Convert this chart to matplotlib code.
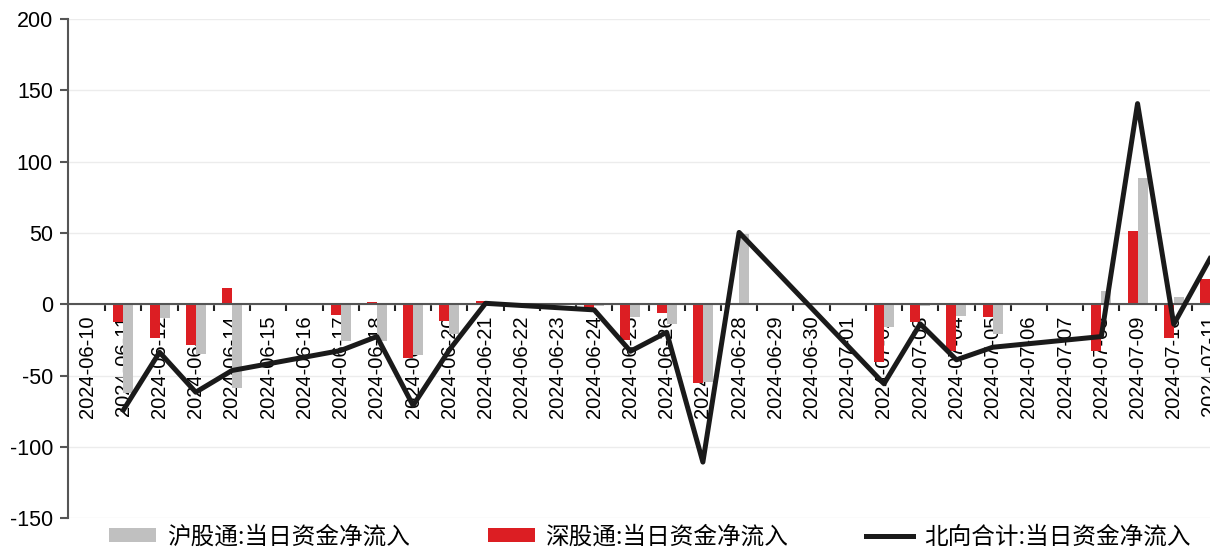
import numpy as np
import matplotlib
matplotlib.use("Agg")
from matplotlib import pyplot as plt

plt.rcParams['font.family'] = ['Liberation Sans', 'Noto Sans CJK SC', 'DejaVu Sans']
plt.rcParams['axes.unicode_minus'] = False

dates = ['2024-06-10', '2024-06-11', '2024-06-12', '2024-06-13', '2024-06-14', '2024-06-15',
         '2024-06-16', '2024-06-17', '2024-06-18', '2024-06-19', '2024-06-20', '2024-06-21',
         '2024-06-22', '2024-06-23', '2024-06-24', '2024-06-25', '2024-06-26', '2024-06-27',
         '2024-06-28', '2024-06-29', '2024-06-30', '2024-07-01', '2024-07-02', '2024-07-03',
         '2024-07-04', '2024-07-05', '2024-07-06', '2024-07-07', '2024-07-08', '2024-07-09',
         '2024-07-10', '2024-07-11']
nan = np.nan
# 沪股通 当日资金净流入
sh = [nan, -62.0, -9.5, -34.7, -58.5, nan, nan, -25.9, -25.4, -35.2, -20.5, -1.4,
      nan, nan, -1.4, -9.1, -13.7, -54.6, 49.3, nan, nan, nan, -15.6, -1.2,
      -7.9, -20.7, nan, nan, 9.6, 88.6, 5.3, 14.5]
# 深股通 当日资金净流入
sz = [nan, -12.6, -23.8, -28.4, 11.5, nan, nan, -7.2, 1.7, -37.5, -11.6, 2.1,
      nan, nan, -2.5, -24.9, -6.0, -55.3, 0.7, nan, nan, nan, -40.6, -12.6,
      -32.4, -9.1, nan, nan, -32.4, 51.3, -23.6, 17.5]
# 北向合计 当日资金净流入
total = [nan, -74.2, -33.6, -61.6, -46.4, nan, nan, -32.4, -22.6, -70.9, -32.0, 0.7,
         nan, nan, -3.9, -32.9, -19.6, -110.6, 50.4, nan, nan, nan, -55.7, -13.7,
         -38.9, -30.1, nan, nan, -22.6, 140.7, -14.0, 32.0]

names = ['沪股通:当日资金净流入', '深股通:当日资金净流入', '北向合计:当日资金净流入']

x = np.arange(len(dates))
sh = np.array(sh)
sz = np.array(sz)
total = np.array(total)

fig = plt.figure(figsize=(12.1, 5.48), dpi=100)
ax = fig.add_axes([0.0564, 0.0542, 0.9436, 0.9111])

w = 0.276
b1 = ax.bar(x + w / 2, sh, w, color='#c0c0c0', zorder=2)
b2 = ax.bar(x - w / 2, sz, w, color='#dc1e23', zorder=2)
# line only joins the days that have data
ok = ~np.isnan(total)
l1, = ax.plot(x[ok], total[ok], color='#1a1a1a', lw=3.6, zorder=3)

ax.set_ylim(-150, 200)
ax.set_yticks(range(-150, 201, 50))
ax.set_xlim(-0.52, 31.0)
ax.grid(axis='y', color='#ececec', lw=1, zorder=0)
ax.set_axisbelow(True)

for s in ['top', 'right']:
    ax.spines[s].set_visible(False)
ax.spines['bottom'].set_position(('data', 0))
ax.spines['bottom'].set_color('#555555')
ax.spines['bottom'].set_linewidth(1.5)
ax.spines['left'].set_color('#555555')
ax.spines['left'].set_linewidth(1.5)

ax.set_xticks(x)
ax.set_xticklabels(dates, rotation=90, fontsize=14.5)
ax.set_xticks(x[:-1] + 0.5, minor=True)
ax.tick_params(axis='x', which='major', length=0, pad=8)
ax.tick_params(axis='x', which='minor', length=5, width=1.5, color='#222222', direction='out')
for t in ax.get_xticklabels():
    t.set_verticalalignment('top')
ax.tick_params(axis='y', length=6, width=1.5, color='#555555', labelsize=15.5, pad=5)

fig.legend([b1, b2, l1], names, loc='center', bbox_to_anchor=(0.537, 0.02), ncol=3, frameon=False,
           prop={'family': ['Noto Sans CJK SC'], 'size': 17},
           handlelength=2.0, handleheight=0.55, handletextpad=0.45, columnspacing=3.3,
           borderaxespad=0)

fig.savefig('out.png', dpi=100)
